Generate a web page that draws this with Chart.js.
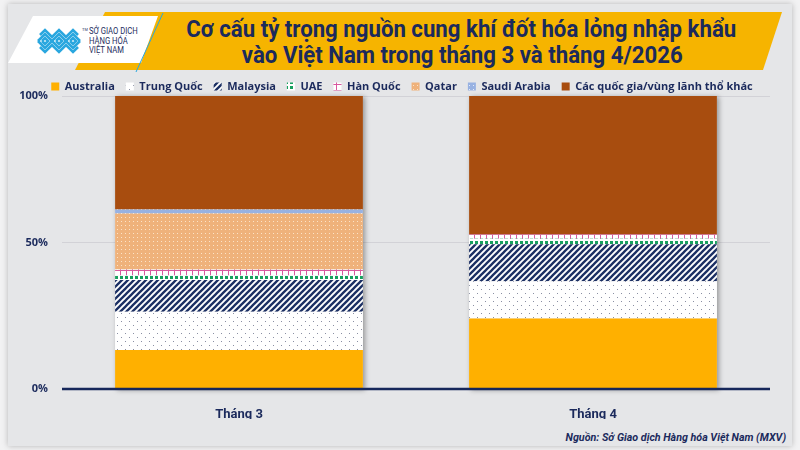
<!DOCTYPE html>
<html>
<head>
<meta charset="utf-8">
<script src="https://cdn.jsdelivr.net/npm/chart.js@4.4.0/dist/chart.umd.min.js"></script>
<style>
  html, body { margin: 0; padding: 0; background: #f2f2f3; }
  #wrap { position: relative; width: 800px; height: 450px; overflow: hidden; }
  #card { position: absolute; left: 8px; top: 4px; width: 784px; height: 442px; background: #e5e6e8;
          box-shadow: 0 0 6px rgba(0,0,0,0.25); }
  #banner { position: absolute; left: 75px; top: 12px; width: 707px; height: 58px; background: #f6b400;
            clip-path: polygon(30px 0, 100% 0, calc(100% - 19px) 100%, 0 100%); }
  #logo { position: absolute; left: 8px; top: 16px; width: 150px; height: 47px; background: #fff;
          clip-path: polygon(25px 0, 100% 0, calc(100% - 17px) 100%, 0 100%); }
  #logoline { position: absolute; left: 0; top: 0; }
  #logotext { position: absolute; left: 89px; top: 27px; font: 8.5px/9.5px Roboto, sans-serif;
              color: #1d2b5c; transform: scaleX(0.9); transform-origin: left top; }
  .tl { position: absolute; left: 0; width: 800px; text-align: center; color: #1b2a5c; white-space: nowrap;
        font: bold 24px/26px Roboto, sans-serif; }
  .tl span { display: inline-block; transform: scaleX(0.925); }
  #source { position: absolute; right: 14px; top: 430px; color: #1b2a5c; white-space: nowrap;
            font: italic bold 11.5px Roboto, sans-serif; transform: scaleX(0.93); transform-origin: right top; }
  canvas { position: absolute; left: 0; top: 0; }
</style>
</head>
<body>
<div id="wrap">
  <div id="card"></div>
  <div id="banner"></div>
  <div id="logo"></div>
  <svg id="logoline" width="800" height="90">
    <line x1="163" y1="13" x2="136" y2="72" stroke="#2aa7df" stroke-width="1"/>
    <g fill="none" stroke="#2aa7df" stroke-width="2.6" stroke-linejoin="miter">
      <polyline points="38,41 45,34 52,41 59,34 66,41 73,34 80,41"/>
      <polyline points="38,41 45,48 52,41 59,48 66,41 73,48 80,41"/>
      <polyline points="42,41 45,38 48,41 45,44 42,41"/>
      <polyline points="56,41 59,38 62,41 59,44 56,41"/>
      <polyline points="70,41 73,38 76,41 73,44 70,41"/>
      <polyline points="40,35 45,30 52,37 59,30 66,37 73,30 78,35"/>
      <polyline points="40,47 45,52 52,45 59,52 66,45 73,52 78,47"/>
    </g>
    <text x="82" y="31" font-size="4" fill="#1d2b5c" font-family="sans-serif">TM</text>
  </svg>
  <div id="logotext">SỞ GIAO DỊCH<br>HÀNG HÓA<br>VIỆT NAM</div>
  <div class="tl" style="top:16px; left:61px;"><span>Cơ cấu tỷ trọng nguồn cung khí đốt hóa lỏng nhập khẩu</span></div>
  <div class="tl" style="top:42px; left:62px;"><span>vào Việt Nam trong tháng 3 và tháng 4/2026</span></div>
  <div id="source">Nguồn: Sở Giao dịch Hàng hóa Việt Nam (MXV)</div>
  <canvas id="myChart" width="800" height="450"></canvas>
</div>
<script>
// du lieu doc tu hinh (%)
const thang = ['Tháng 3', 'Tháng 4'];
const nguon = ['Australia', 'Trung Quốc', 'Malaysia', 'UAE', 'Hàn Quốc', 'Qatar', 'Saudi Arabia', 'Các quốc gia/vùng lãnh thổ khác'];
const australia = [13.3, 24.1];
const trungQuoc = [13.1, 12.7];
const malaysia = [10.8, 12.6];
const uae = [1.5, 1.9];
const hanQuoc = [2.1, 1.4];
const qatar = [19.1, 0];
const saudi = [1.4, 0];
const khac = [38.7, 47.3];
const yTicks = [0, 50, 100];

const navy = '#1b2a5c';

function pattern(size, bg, draw){
    const c = document.createElement('canvas');
    c.width = size; c.height = size;
    const x = c.getContext('2d');
    x.fillStyle = bg;
    x.fillRect(0, 0, size, size);
    draw(x);
    return x.createPattern(c, 'repeat');
}

const mau = [
    '#ffb000',
    pattern(8, '#ffffff', x => { x.fillStyle = '#8a8fa3'; x.fillRect(1, 1, 1, 1); x.fillRect(5, 5, 1, 1); }),
    pattern(6, '#ffffff', x => {
        x.strokeStyle = '#1b2f63'; x.lineWidth = 2.3;
        x.beginPath(); x.moveTo(0, 6); x.lineTo(6, 0); x.stroke();
        x.beginPath(); x.moveTo(-3, 3); x.lineTo(3, -3); x.stroke();
        x.beginPath(); x.moveTo(3, 9); x.lineTo(9, 3); x.stroke();
    }),
    pattern(5, '#ffffff', x => { x.fillStyle = '#17a05e'; x.fillRect(0, 1, 3, 3); }),
    pattern(6, '#ffffff', x => { x.fillStyle = '#d9589f'; x.fillRect(0, 0, 1, 6); x.fillRect(0, 0, 6, 1); }),
    pattern(4, '#efb27b', x => { x.fillStyle = '#fbe3c8'; x.fillRect(1, 1, 1, 1); }),
    pattern(4, '#98b2e2', x => { x.fillStyle = '#e4ecfa'; x.fillRect(1, 1, 1, 1); }),
    '#a84d0f'
];

const series = [australia, trungQuoc, malaysia, uae, hanQuoc, qatar, saudi, khac];

// ve duong 0% va bong cua cot
const extras = {
    id: 'extras',
    beforeLayout(chart){
        // legend sat vao vung ve hon
        const lg = chart.legend;
        if (lg && !lg._sat){
            const fit = lg.fit;
            lg.fit = function(){ fit.call(this); this.height -= 6; };
            lg._sat = true;
        }
    },
    afterLayout(chart){
        // day legend sang phai mot chut
        chart.legend.left += 8;
        chart.legend.right += 8;
    },
    beforeDatasetsDraw(chart){
        const ctx = chart.ctx;
        const first = chart.getDatasetMeta(0).data;
        const last = chart.getDatasetMeta(series.length - 1).data;
        ctx.save();
        ctx.shadowColor = 'rgba(0,0,0,0.35)';
        ctx.shadowBlur = 5;
        ctx.shadowOffsetX = 2;
        ctx.shadowOffsetY = 1;
        ctx.fillStyle = '#e5e6e8';
        first.forEach((b, i) => {
            const top = last[i].y;
            ctx.fillRect(b.x - b.width / 2, top, b.width, b.base - top);
        });
        ctx.restore();
    },
    afterDatasetsDraw(chart){
        const ctx = chart.ctx;
        const y = chart.scales.y.getPixelForValue(0);
        ctx.save();
        ctx.strokeStyle = '#16275a';
        ctx.lineWidth = 2.5;
        ctx.beginPath();
        ctx.moveTo(chart.chartArea.left, y);
        ctx.lineTo(chart.chartArea.right, y);
        ctx.stroke();
        ctx.restore();
    }
};

let chartNguon;

function initChart(){
    const ctx = document.getElementById('myChart').getContext('2d');
    chartNguon = new Chart(ctx, {
        type: 'bar',
        data: {
            labels: thang,
            datasets: series.map((d, i) => ({
                label: nguon[i],
                data: d,
                backgroundColor: mau[i],
                borderWidth: 0,
                barPercentage: 0.7,
                categoryPercentage: 1
            }))
        },
        options: {
            responsive: false,
            animation: false,
            devicePixelRatio: 1,
            layout: { padding: { top: 70, left: 18, right: 30, bottom: 31 } },
            scales: {
                x: {
                    stacked: true,
                    grid: { display: false },
                    border: { display: false },
                    ticks: { color: navy, padding: 10, font: { family: 'Roboto, sans-serif', size: 13, weight: 'bold' } },
                    afterFit: s => { s.height = 30; }
                },
                y: {
                    stacked: true,
                    min: 0,
                    max: 100,
                    afterBuildTicks: s => { s.ticks = yTicks.map(v => ({ value: v })); },
                    grid: { color: c => c.tick && c.tick.value === 0 ? 'rgba(0,0,0,0)' : 'rgba(205,205,210,0.8)', drawTicks: false },
                    border: { display: false },
                    ticks: {
                        color: navy,
                        padding: 14,
                        font: { family: '"Open Sans", sans-serif', size: 11, weight: 'bold' },
                        callback: v => v + '%'
                    },
                    afterFit: s => { s.width = 44; }
                }
            },
            plugins: {
                legend: {
                    position: 'top',
                    labels: {
                        color: navy,
                        boxWidth: 8,
                        boxHeight: 8,
                        padding: 11,
                        font: { family: '"Open Sans", sans-serif', size: 11, weight: 'bold' }
                    }
                },
                tooltip: { enabled: false }
            }
        },
        plugins: [extras]
    });
}

window.onload = initChart();
</script>
</body>
</html>
